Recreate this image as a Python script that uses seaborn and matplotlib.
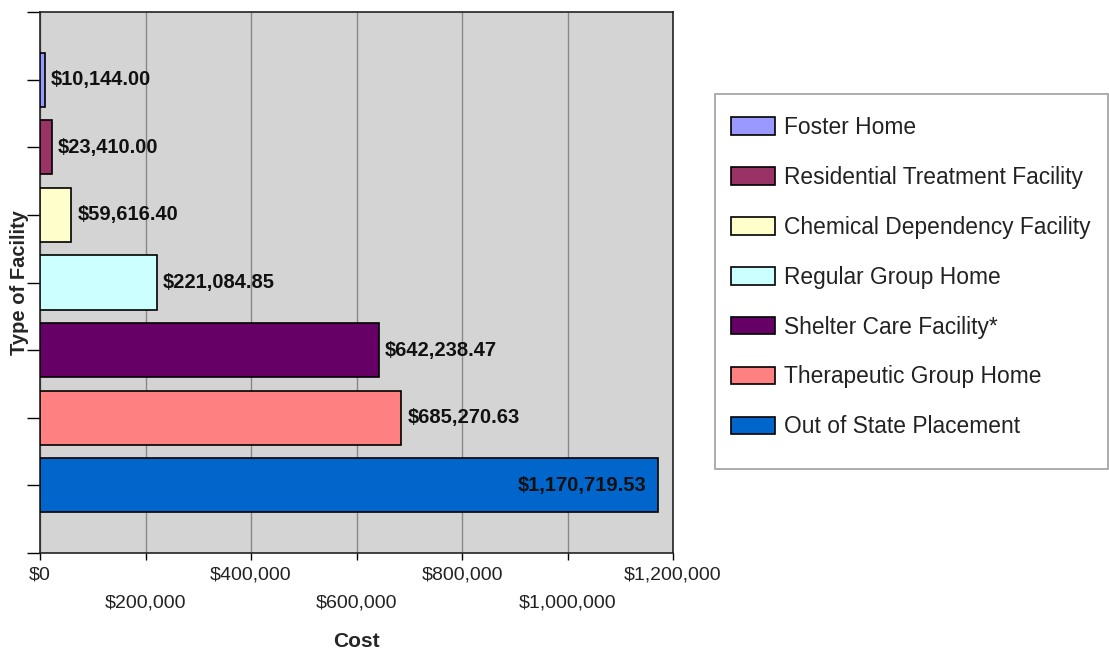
import matplotlib
matplotlib.use("Agg")
import matplotlib.pyplot as plt
from matplotlib.patches import Patch, Rectangle
import seaborn as sns
import pandas as pd

categories = ["Foster Home", "Residential Treatment Facility", "Chemical Dependency Facility",
              "Regular Group Home", "Shelter Care Facility*", "Therapeutic Group Home",
              "Out of State Placement"]
costs = [10144.00, 23410.00, 59616.40, 221084.85, 642238.47, 685270.63, 1170719.53]
colors = ["#9999ff", "#993366", "#ffffcc", "#ccffff", "#660066", "#ff8080", "#0066cc"]
x_ticks = [0, 200000, 400000, 600000, 800000, 1000000, 1200000]
x_tick_labels = ["$0", "$200,000", "$400,000", "$600,000", "$800,000", "$1,000,000", "$1,200,000"]

sns.set_style("white")
plt.rcParams["font.family"] = ["Liberation Sans", "DejaVu Sans"]

df = pd.DataFrame({"Type": categories, "Cost": costs})

W, H = 1109, 649
fig = plt.figure(figsize=(W / 100, H / 100), dpi=100)
ax = fig.add_axes([40 / W, 1 - 553 / H, (673 - 40) / W, (553 - 12) / H])
ax.set_facecolor("#d4d4d4")

sns.barplot(data=df, x="Cost", y="Type", hue="Type", palette=colors, orient="h",
            order=categories, hue_order=categories, width=0.8, dodge=False, saturation=1,
            edgecolor="black", linewidth=1.2, legend=False, ax=ax, zorder=3)

ax.set_xlim(0, 1200000)
ax.set_ylim(6.97, -1)
ax.set_yticks(range(-1, 8))
ax.set_yticklabels([])
ax.tick_params(axis="y", direction="out", length=9.5, width=1, color="black", left=True)

ax.set_xticks(x_ticks)
ax.set_xticklabels([lab if i % 2 == 0 else "\n" + lab for i, lab in enumerate(x_tick_labels)],
                   fontsize=14, color="#222222", linespacing=1.8)
ax.tick_params(axis="x", direction="out", length=5, width=1, color="black", pad=5, bottom=True)

ax.grid(axis="x", color="#888888", linewidth=1, zorder=0)
ax.grid(axis="y", visible=False)
ax.set_axisbelow(True)
for s in ax.spines.values():
    s.set_visible(True)
    s.set_color("#222222")
    s.set_linewidth(1.2)

ax.set_xlabel("Cost", fontsize=15, fontweight="bold")
ax.xaxis.set_label_coords(0.5, -0.1455)
ax.set_ylabel("Type of Facility", fontsize=14.5, fontweight="bold")
ax.yaxis.set_label_coords(-0.017, 0.5)

for i, v in enumerate(costs):
    label = "${:,.2f}".format(v)
    if v > 1000000:
        ax.text(v - 22000, i, label, ha="right", va="center", fontsize=14.5, fontweight="bold",
                color="#111111", zorder=5)
    else:
        ax.text(v + 11000, i, label, ha="left", va="center", fontsize=14.5, fontweight="bold",
                color="#111111", zorder=5)

# legend frame drawn as a figure rectangle
fig.patches.append(Rectangle((715 / W, 1 - 469 / H), (1108 - 715) / W, (469 - 94) / H,
                             transform=fig.transFigure, facecolor="white",
                             edgecolor="#a0a0a0", linewidth=1.2, zorder=0))

handles = [Patch(facecolor=c, edgecolor="black", linewidth=1.2) for c in colors]
leg = fig.legend(handles, categories, loc="upper left", bbox_to_anchor=(731 / W, 1 - 116 / H),
                 bbox_transform=fig.transFigure, fontsize=16.4, frameon=False,
                 handlelength=1.95, handleheight=0.82, labelspacing=1.18, borderpad=0,
                 handletextpad=0.38, borderaxespad=0)
for t in leg.get_texts():
    t.set_color("#222222")

fig.savefig("out.png", dpi=100)
